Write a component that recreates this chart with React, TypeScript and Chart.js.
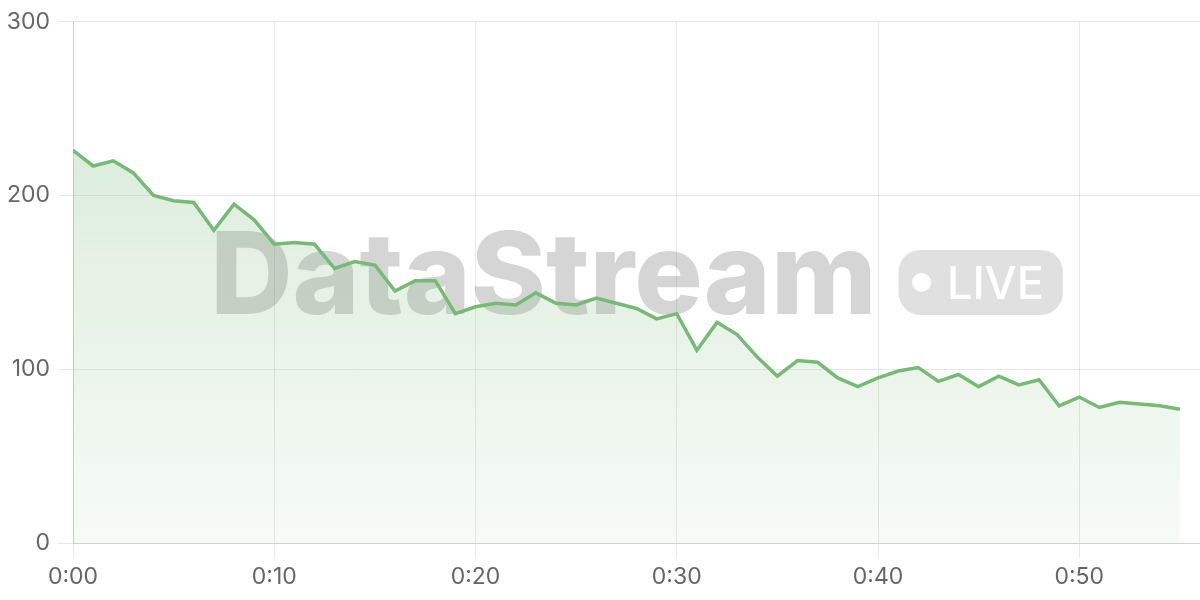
import { useEffect, useRef } from 'react';
import { Chart, registerables } from 'chart.js';
import type { Plugin } from 'chart.js';

Chart.register(...registerables);

// minutes since start, one reading per minute
const readings: number[] = [
  226, 217, 220, 213, 200, 197, 196, 180, 195, 186,
  172, 173, 172, 158, 162, 160, 145, 151, 151, 132,
  136, 138, 137, 144, 138, 137, 141, 138, 135, 129,
  132, 111, 127, 120, 107, 96, 105, 104, 95, 90,
  95, 99, 101, 93, 97, 90, 96, 91, 94, 79,
  84, 78, 81, 80, 79, 77
];
const minutes: number[] = readings.map((_, i) => i);

const xMax = 56;
const yTicks = [0, 100, 200, 300];

const lineColor = '#78b978';
const axisFont = { family: 'Inter, "Liberation Sans", sans-serif', size: 23 };

function formatMinute(v: number): string {
  return `${Math.floor(v / 60)}:${String(v % 60).padStart(2, '0')}`;
}

const watermark: Plugin<'line'> = {
  id: 'watermark',
  beforeDatasetsDraw(chart) {
    const { ctx, chartArea } = chart;
    const cx = (chartArea.left + chartArea.right) / 2;
    const cy = (chartArea.top + chartArea.bottom) / 2;
    const bigFont = '800 114px Inter, "Liberation Sans", sans-serif';
    const liveFont = '500 45px Inter, "Liberation Sans", sans-serif';

    ctx.save();
    ctx.font = bigFont;
    const textW = ctx.measureText('DataStream').width;
    ctx.font = liveFont;
    const liveW = ctx.measureText('LIVE').width;

    const gap = 22;
    const pillW = 13.5 + 19 + 16 + liveW + 19;
    const pillH = 65;
    const startX = cx - (textW + gap + pillW) / 2;

    ctx.fillStyle = 'rgba(0,0,0,0.165)';
    ctx.font = bigFont;
    ctx.textBaseline = 'alphabetic';
    ctx.textAlign = 'left';
    ctx.fillText('DataStream', startX, cy + 32);

    const px = startX + textW + gap;
    const py = cy - pillH / 2;
    ctx.fillStyle = 'rgba(0,0,0,0.12)';
    ctx.beginPath();
    ctx.roundRect(px, py, pillW, pillH, 22);
    ctx.fill();

    ctx.fillStyle = '#ffffff';
    ctx.beginPath();
    ctx.arc(px + 13.5 + 9.5, cy, 9.5, 0, Math.PI * 2);
    ctx.fill();

    ctx.font = liveFont;
    ctx.fillText('LIVE', px + 13.5 + 19 + 16, cy + 17);
    ctx.restore();
  }
};

export default function App() {
  const canvasRef = useRef<HTMLCanvasElement | null>(null);

  useEffect(() => {
    document.body.style.margin = '0';
    if (!canvasRef.current) return;

    const chart = new Chart(canvasRef.current, {
      type: 'line',
      data: {
        datasets: [{
          data: minutes.map((m, i) => ({ x: m, y: readings[i] })),
          borderColor: lineColor,
          borderWidth: 3.5,
          pointRadius: 0,
          tension: 0,
          fill: 'origin',
          backgroundColor: (context) => {
            const area = context.chart.chartArea;
            if (!area) return 'rgba(120,185,120,0.2)';
            const g = context.chart.ctx.createLinearGradient(0, area.top, 0, area.bottom);
            g.addColorStop(0, 'rgba(120,185,120,0.32)');
            g.addColorStop(1, 'rgba(120,185,120,0.06)');
            return g;
          }
        }]
      },
      options: {
        animation: false,
        responsive: true,
        maintainAspectRatio: false,
        layout: { padding: { top: 19, right: 0, bottom: 0, left: 0 } },
        plugins: {
          legend: { display: false },
          tooltip: { enabled: false }
        },
        scales: {
          x: {
            type: 'linear',
            min: 0,
            max: xMax,
            grid: { color: 'rgba(0,0,0,0.09)', tickLength: 15 },
            ticks: {
              stepSize: 10,
              includeBounds: false,
              maxRotation: 0,
              color: '#666',
              font: axisFont,
              padding: 5,
              callback: (v) => formatMinute(Number(v))
            },
            afterFit: (scale) => { scale.height = 57; }
          },
          y: {
            min: 0,
            max: 300,
            grid: { color: 'rgba(0,0,0,0.09)', tickLength: 15 },
            ticks: {
              stepSize: 100,
              color: '#666',
              font: axisFont,
              padding: 8
            },
            afterBuildTicks: (scale) => {
              scale.ticks = yTicks.map((value) => ({ value }));
            },
            afterFit: (scale) => { scale.width = 73; }
          }
        }
      },
      plugins: [watermark]
    });

    return () => chart.destroy();
  }, []);

  return (
    <div style={{ width: '1200px', height: '600px', position: 'relative' }}>
      <canvas ref={canvasRef} />
    </div>
  );
}
